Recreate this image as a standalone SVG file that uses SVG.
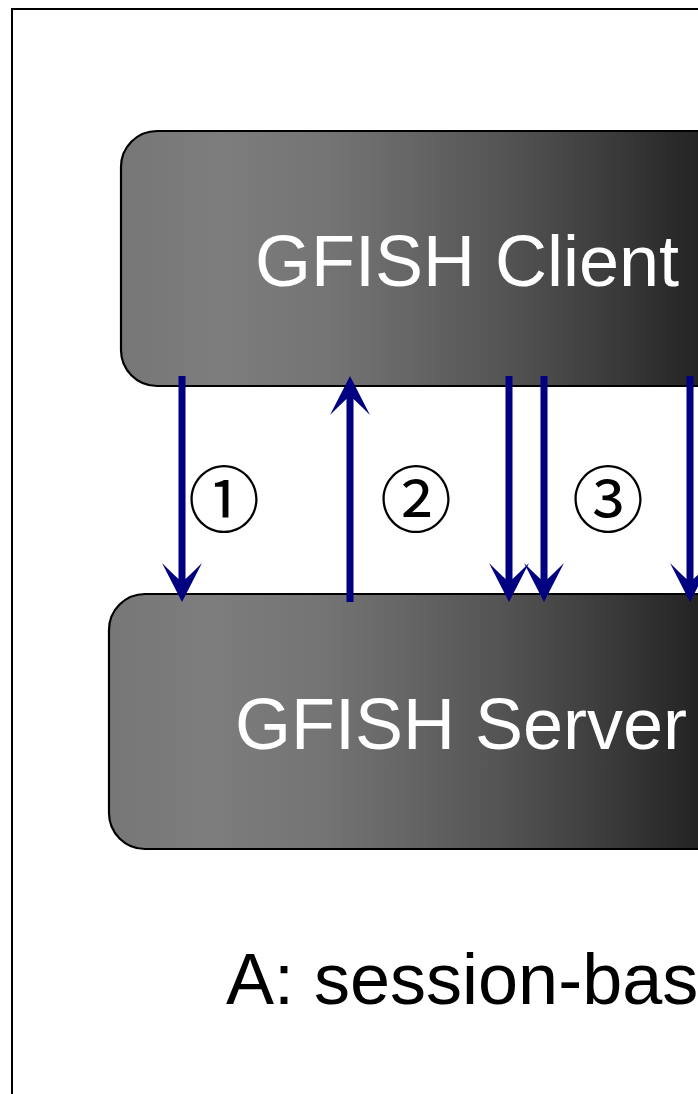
<svg xmlns="http://www.w3.org/2000/svg" width="698" height="1094" viewBox="0 0 698 1094">
<style>
.box{stroke:#000;stroke-width:2.2;fill:url(#shade)}
.title{font-family:"Liberation Sans",Arial,sans-serif;font-size:72px;fill:#fff}
.cap{font-family:"Liberation Sans",Arial,sans-serif;font-size:72px;fill:#000}
.num{font-family:"Noto Sans CJK JP","DejaVu Sans",sans-serif;font-size:72px;fill:#000;text-anchor:middle}
.arr{stroke:#000080;stroke-width:7;fill:none;marker-end:url(#head)}
</style>
<defs>
<linearGradient id="shade" gradientUnits="objectBoundingBox" x1="0" y1="0" x2="1" y2="0">
<stop offset="0" stop-color="#777777"/>
<stop offset="0.143" stop-color="#7d7d7d"/>
<stop offset="0.303" stop-color="#747474"/>
<stop offset="0.419" stop-color="#666666"/>
<stop offset="0.549" stop-color="#555555"/>
<stop offset="0.694" stop-color="#3e3e3e"/>
<stop offset="0.836" stop-color="#242424"/>
<stop offset="1" stop-color="#0c0c0c"/>
</linearGradient>
<marker id="head" markerUnits="userSpaceOnUse" viewBox="-30 -22 44 44" markerWidth="44" markerHeight="44" refX="0" refY="0" orient="auto" overflow="visible">
<path d="M12,0 L-27,-20 Q-12,-5 -8,0 Q-12,5 -27,20 Z" fill="#000080"/>
</marker>
</defs>
<rect x="12" y="9" width="720" height="1110" fill="none" stroke="#000" stroke-width="2"/>
<g id="client">
<rect class="box" x="121" y="131" width="690" height="255" rx="36" ry="36"/>
<text class="title" x="255" y="286">GFISH Client</text>
</g>
<g id="server">
<rect class="box" x="109" y="594" width="702" height="255" rx="36" ry="36"/>
<text class="title" x="235" y="749">GFISH Server</text>
</g>
<g id="connectors">
<path class="arr" d="M182,376 V590"/>
<path class="arr" d="M350,602 V388"/>
<path class="arr" d="M509,376 V590"/>
<path class="arr" d="M544,376 V590"/>
<path class="arr" d="M690,376 V590"/>
</g>
<g id="labels">
<text class="num" x="224" y="526">①</text>
<text class="num" x="416" y="526">②</text>
<text class="num" x="608" y="526">③</text>
</g>
<g id="caption">
<text class="cap" x="226" y="1004">A: session-bas</text>
</g>
</svg>
